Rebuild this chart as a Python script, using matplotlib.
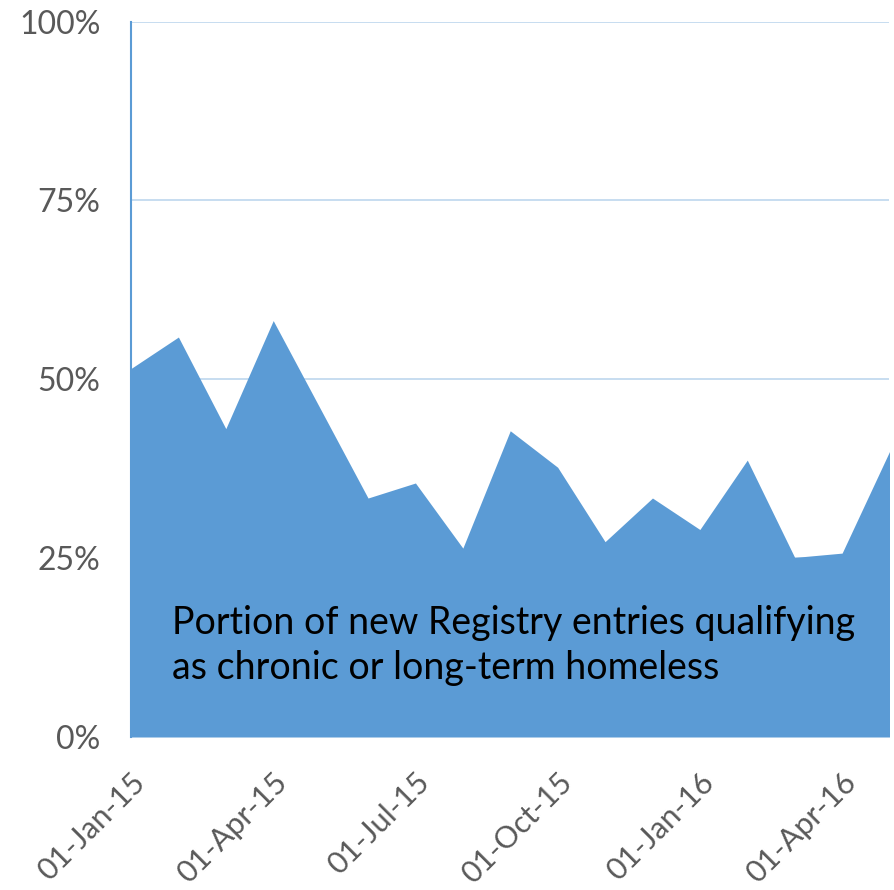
import matplotlib
matplotlib.use("Agg")
import matplotlib.pyplot as plt

months = ["01-Jan-15", "01-Feb-15", "01-Mar-15", "01-Apr-15", "01-May-15", "01-Jun-15",
          "01-Jul-15", "01-Aug-15", "01-Sep-15", "01-Oct-15", "01-Nov-15", "01-Dec-15",
          "01-Jan-16", "01-Feb-16", "01-Mar-16", "01-Apr-16", "01-May-16"]
share_pct = [51.5, 55.9, 43.1, 58.2, 45.8, 33.4, 35.5, 26.4, 42.8, 37.7, 27.3,
             33.4, 29.0, 38.7, 25.1, 25.7, 39.9]
ytick_vals = [0, 25, 50, 75, 100]
ytick_labels = ["0%", "25%", "50%", "75%", "100%"]
label_text = "Portion of new Registry entries qualifying\nas chronic or long-term homeless"

plt.rcParams['font.family'] = ['Lato', 'DejaVu Sans']

fig = plt.figure(figsize=(8.95, 8.90), dpi=100)
ax = fig.add_axes([131/895, (890-737)/890, (889.5-131)/895, (737-21.5)/890])

x = list(range(len(months)))
ax.fill_between(x, 0, share_pct, color="#5B9BD5", linewidth=0, zorder=2)

ax.set_xlim(0, len(months) - 1)
ax.set_ylim(0, 100)
ax.set_yticks(ytick_vals)
ax.set_yticklabels(ytick_labels)
ax.yaxis.grid(True, color="#BDD7EE", linewidth=1.2, zorder=1)
ax.set_axisbelow(True)

tick_idx = x[::3]
ax.set_xticks(tick_idx)
ax.set_xticklabels([months[i] for i in tick_idx], rotation=45, ha="right",
                   va="top", rotation_mode="anchor")

ax.tick_params(axis="y", length=0, pad=22, labelsize=23, labelcolor="#595959")
ax.tick_params(axis="x", length=0, pad=22, labelsize=22, labelcolor="#595959")

for s in ["top", "right", "bottom"]:
    ax.spines[s].set_visible(False)
ax.spines["left"].set_color("#5B9BD5")
ax.spines["left"].set_linewidth(1.5)
ax.spines["left"].set_zorder(3)

fig.text(172/895, 1 - 605/890, label_text, fontsize=27,
         color="black", ha="left", va="top", linespacing=1.3)

fig.savefig("out.png", dpi=100)
